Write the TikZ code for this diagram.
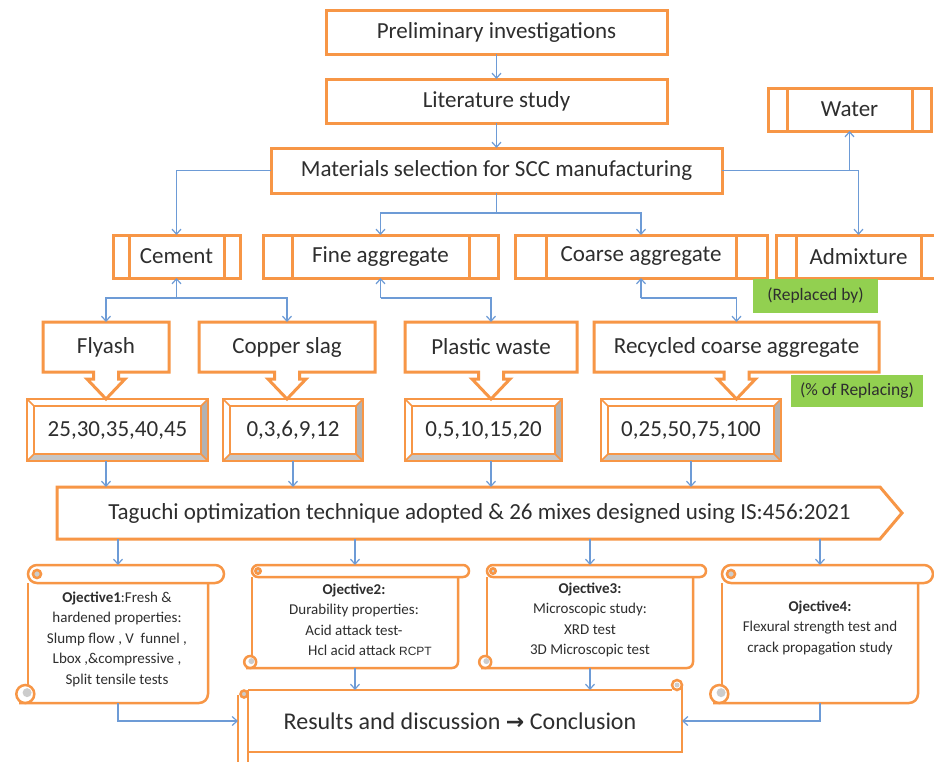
\documentclass[tikz,border=0pt]{standalone}
\usepackage{fontspec}
\setmainfont{Carlito}
\newfontfamily\dejavu{DejaVu Sans}
\newfontfamily\arialf{Liberation Sans}
\usetikzlibrary{arrows.meta,calc}
\definecolor{org}{HTML}{F79646}
\definecolor{blu}{HTML}{6D9BD6}
\definecolor{grn}{HTML}{92D050}
\definecolor{txt}{HTML}{2E2E2E}
\tikzset{
  oline/.style={draw=org, line width=3pt, line join=miter},
  bline/.style={draw=org, line width=2.5pt},
  sline/.style={draw=org, line width=2.5pt},
  obox/.style={draw=org, line width=3pt, fill=white, text=txt, inner sep=0pt, outer sep=0pt,
    font=\fontsize{23}{26}\selectfont},
  pbox/.style={obox, minimum height=43},
  cbox/.style={draw=none, text=txt, inner sep=0pt, outer sep=0pt, font=\fontsize{23}{26}\selectfont, minimum height=50},
  vtext/.style={draw=none, text=txt, inner sep=0pt, outer sep=0pt, font=\fontsize{23}{26}\selectfont},
  inv/.style={draw=none, inner sep=0pt, outer sep=0pt},
  otext/.style={text=txt, inner sep=0pt, align=center, font=\fontsize{15}{20.5}\selectfont},
  gbox/.style={fill=grn, text=txt, inner sep=0pt, outer sep=0pt, font=\fontsize{17.5}{20}\selectfont},
  conn/.style={draw=blu, line width=1.2pt, -{Straight Barb[length=5pt,width=9pt]}},
}
\newcommand\pinner[2]{%
  \draw[oline] ([xshift=#2]#1.north west) -- ([xshift=#2]#1.south west);
  \draw[oline] ([xshift=-#2]#1.north east) -- ([xshift=-#2]#1.south east);}
\newcommand\dcallout[1]{%
  \draw[oline] (#1.north west) -- (#1.north east) -- (#1.south east) -- ($(#1.south)+(12.5,0)$)
   -- ++(0,7) -- ++(6.5,0) -- ($(#1.south)+(0,27)$) -- ($(#1.south)+(-19,7)$) -- ++(6.5,0)
   -- ($(#1.south)+(-12.5,0)$) -- (#1.south west) -- cycle;}
\newcommand\bevelbox[6]{%
  \fill[gray!45] (#2,#5) -- (#4,#5) -- ({#4-7},{#5-7}) -- ({#2+7},{#5-7}) -- cycle;
  \fill[gray!60] (#4,#3) -- (#4,#5) -- ({#4-7},{#5-7}) -- ({#4-7},{#3+7}) -- cycle;
  \draw[bline] (#2,#3) rectangle (#4,#5);
  \draw[bline] ({#2+7},{#3+7}) rectangle ({#4-7},{#5-7});
  \draw[draw=org, line width=1.5pt] (#2,#3) -- ({#2+7},{#3+7}) (#4,#3) -- ({#4-7},{#3+7})
     (#2,#5) -- ({#2+7},{#5-7}) (#4,#5) -- ({#4-7},{#5-7});
  \node[vtext, minimum width={#4-#2}, minimum height={#5-#3}] (#1) at ({(#2+#4)/2},{(#3+#5)/2}) {#6};}
\newcommand\vscroll[6]{% xl xr xt y0 y1 r
  \draw[sline] ({#1},{#4+2*#6}) -- ({#1},{#5-#6});
  \draw[sline, rounded corners=#6pt] ({#1-#6},{#5}) -- ({#2},{#5}) -- ({#2},{#4+2*#6});
  \draw[sline, fill=white, rounded corners=#6pt] ({#1},{#4}) rectangle ({#3},{#4+2*#6});
  \filldraw[sline, fill=gray!40] ({#1+#6},{#4+#6}) circle ({#6*0.45});
  \filldraw[sline, fill=white] ({#1-#6*0.3},{#5-#6}) circle ({#6});
  \fill[gray!40] ({#1-#6*0.1},{#5-#6*1.15}) circle ({#6*0.5});}
\begin{document}
\begin{tikzpicture}[x=1pt,y=-1pt]
\useasboundingbox (0,0) rectangle (934,761);
\fill[white] (0,0) rectangle (934,761);

% top boxes
\node[obox, minimum width=341, minimum height=44] (prelim) at (496.5,32) {Preliminary investigations};
\node[obox, minimum width=341, minimum height=44] (lit) at (496.5,101) {Literature study};
\node[obox, minimum width=451, minimum height=45] (mat) at (496.5,170.5) {Materials selection for SCC manufacturing};

% predefined-process boxes
\node[pbox, minimum width=163] (water) at (849.5,109.5) {Water};
\node[pbox, minimum width=127] (cement) at (176.5,256.5) {Cement};
\node[pbox, minimum width=235] (fine) at (380.5,256.5) {Fine aggregate};
\node[pbox, minimum width=252] (coarse) at (641,256.5) {Coarse aggregate};
\node[pbox, minimum width=165] (admix) at (858.5,256.5) {Admixture};
\pinner{water}{19}
\pinner{cement}{16}
\pinner{fine}{29}
\pinner{coarse}{31}
\pinner{admix}{20}

% connectors top
\draw[conn] (prelim) -- (lit);
\draw[conn] (lit) -- (mat);
\draw[conn] (mat.west) -| (cement.north);
\draw[conn] (mat.east) -| (admix.north);
\draw[conn] (mat.east -| water.south) -- (water.south);
\coordinate (jm) at ($(mat.south)+(0,20)$);
\draw[blu, line width=1.2pt] (mat.south) -- (jm);
\draw[conn] (jm) -| (fine.north);
\draw[conn] (jm) -| (coarse.north);

% callouts
\node[cbox, minimum width=126] (fly) at (106,347) {Flyash};
\node[cbox, minimum width=176] (copper) at (287,347) {Copper slag};
\node[cbox, minimum width=172] (plast) at (491,347) {Plastic waste};
\node[cbox, minimum width=285] (rec) at (736.5,347) {Recycled coarse aggregate};
\dcallout{fly}
\dcallout{copper}
\dcallout{plast}
\dcallout{rec}

% connectors material -> replacement
\coordinate (jc) at ($(cement.south)+(0,20)$);
\draw[conn] (jc) -- (cement.south);
\draw[conn] (jc) -| (fly.north);
\draw[conn] (jc) -| (copper.north);
\coordinate (jf) at ($(fine.south)+(0,20)$);
\draw[conn] (jf) -- (fine.south);
\draw[conn] (jf) -| (plast.north);
\coordinate (jk) at ($(coarse.south)+(0,20)$);
\draw[conn] (jk) -- (coarse.south);
\draw[conn] (jk) -| (rec.north);

% green labels
\node[gbox, minimum width=125, minimum height=34] (rby) at (815.5,296) {(Replaced by)};
\node[gbox, minimum width=132, minimum height=32] (pct) at (857,391) {(\% of Replacing)};

% value boxes
\bevelbox{v1}{27}{399}{208}{461}{25,30,35,40,45}
\bevelbox{v2}{223}{399}{363}{461}{0,3,6,9,12}
\bevelbox{v3}{405}{399}{562}{461}{0,5,10,15,20}
\bevelbox{v4}{601}{399}{781}{461}{0,25,50,75,100}

% Taguchi
\node[cbox, minimum width=845, minimum height=52] (tag) at (479.5,513) {Taguchi optimization technique adopted \& 26 mixes designed using IS:456:2021};
\draw[oline] (tag.north west) -- ($(tag.north east)+(-22,0)$) -- (tag.east) -- ($(tag.south east)+(-22,0)$) -- (tag.south west) -- cycle;
\draw[conn] (v1.south -| fly.south) -- (tag.north -| fly.south);
\draw[conn] (v2.south) -- (v2.south |- tag.north);
\draw[conn] (v3.south -| plast.south) -- (tag.north -| plast.south);
\draw[conn] (v4.south) -- (v4.south |- tag.north);

% objective scrolls
\vscroll{28}{208}{224}{565}{703}{9}
\vscroll{252}{458}{469}{565}{668}{6}
\vscroll{487}{693}{706}{565}{668}{6}
\vscroll{722}{918}{933}{565}{703}{9}
\node[inv, minimum width=180, minimum height=138] (s1) at (118,634) {};
\node[inv, minimum width=206, minimum height=103] (s2) at (355,616.5) {};
\node[inv, minimum width=206, minimum height=103] (s3) at (590,616.5) {};
\node[inv, minimum width=196, minimum height=138] (s4) at (820,634) {};
\node[otext] (o1) at (117,639) {\textbf{Ojective1}:Fresh \&\\hardened properties:\\Slump flow , V\ \ funnel ,\\Lbox ,\&compressive ,\\Split tensile tests};
\node[otext] (o2) at (354,620) {\textbf{Ojective2:}\\Durability properties:\\Acid attack test-\\\hspace*{32pt}Hcl acid attack {\arialf\fontsize{12}{14}\selectfont RCPT}};
\node[otext] (o3) at (590,620) {\textbf{Ojective3:}\\Microscopic study:\\XRD test\\3D Microscopic test};
\node[otext] (o4) at (820,628) {\textbf{Ojective4:}\\Flexural strength test and\\crack propagation study};
\draw[conn] (tag.south -| s1.north) -- (s1.north);
\draw[conn] (tag.south -| s2.north) -- (s2.north);
\draw[conn] (tag.south -| s3.north) -- (s3.north);
\draw[conn] (tag.south -| s4.north) -- (s4.north);

% results scroll
\draw[sline] (238,695) -- (238,775);
\draw[sline] (248,690) -- (248,775);
\draw[sline] (248,690) -- (672,690);
\draw[sline] (248,752) -- (682,752) -- (682,684);
\filldraw[sline, fill=gray!40] (244,694) circle (3.5);
\filldraw[sline, fill=white] (677,685) circle (5);
\fill[gray!40] (677,685) circle (2.5);
\node[inv, minimum width=444, minimum height=62, text=txt, font=\fontsize{24}{28}\selectfont] (res) at (460,721) {Results and discussion {\dejavu\fontsize{22}{24}\selectfont\bfseries →} Conclusion};
\draw[conn] (s1.south) |- (res.west);
\draw[conn] (s4.south) |- (res.east);
\draw[conn] (s2.south) -- (s2.south |- res.north);
\draw[conn] (s3.south) -- (s3.south |- res.north);
\end{tikzpicture}
\end{document}
